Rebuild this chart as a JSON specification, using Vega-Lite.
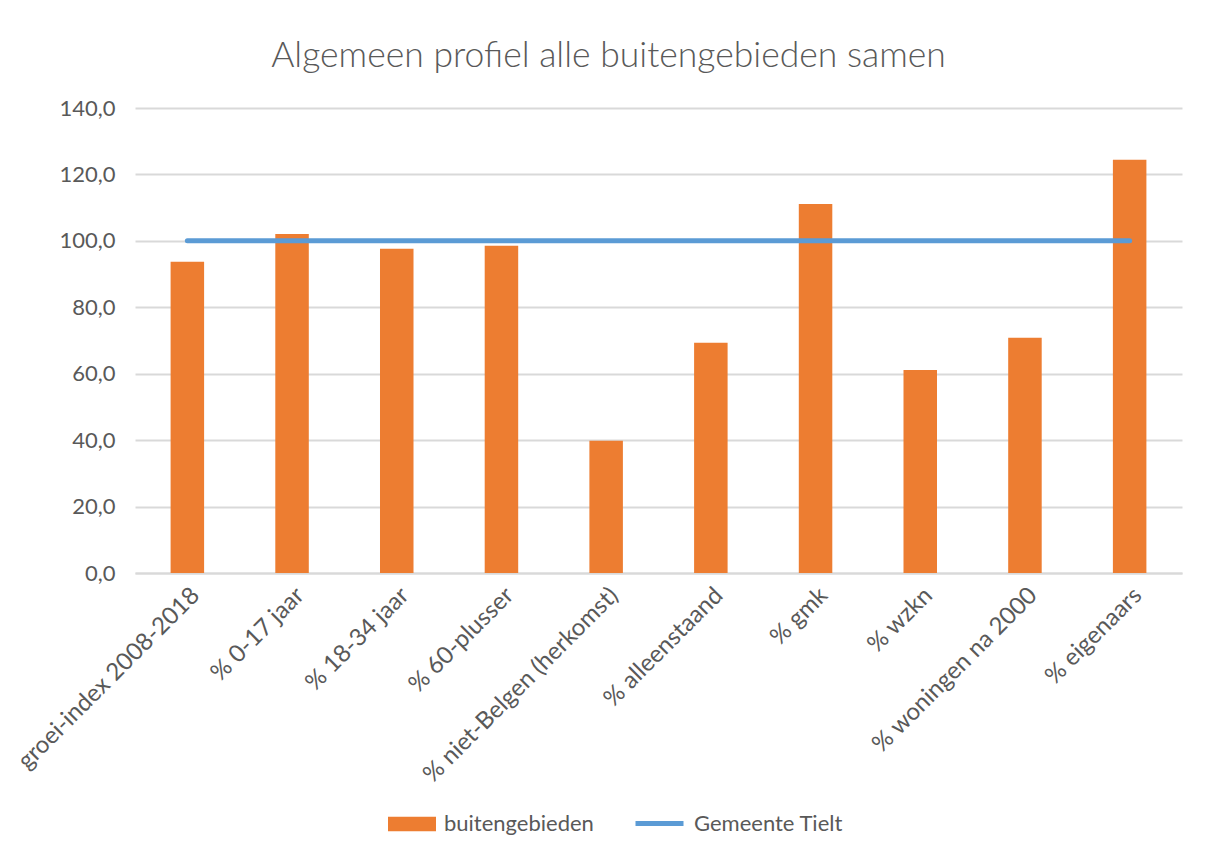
{
  "$schema": "https://vega.github.io/schema/vega-lite/v6.json",
  "width": 1047,
  "height": 465,
  "autosize": {"type": "none"},
  "padding": {"left": 135, "top": 108, "right": 24, "bottom": 283},
  "background": "white",
  "config": {
    "locale": {"number": {"decimal": ",", "thousands": ".", "grouping": [3], "currency": ["€", ""]}},
    "view": {"stroke": null},
    "font": "Lato"
  },
  "title": {
    "text": "Algemeen profiel alle buitengebieden samen",
    "font": "Lato",
    "fontSize": 35.5,
    "fontWeight": 300,
    "color": "#595959",
    "anchor": "middle",
    "dx": -50,
    "offset": 23
  },
  "data": {
    "values": [
      {"categorie": "groei-index 2008-2018", "buitengebieden": 93.7, "tielt": 100},
      {"categorie": "% 0-17 jaar", "buitengebieden": 102.1, "tielt": 100},
      {"categorie": "% 18-34 jaar", "buitengebieden": 97.6, "tielt": 100},
      {"categorie": "% 60-plusser", "buitengebieden": 98.5, "tielt": 100},
      {"categorie": "% niet-Belgen (herkomst)", "buitengebieden": 39.8, "tielt": 100},
      {"categorie": "% alleenstaand", "buitengebieden": 69.3, "tielt": 100},
      {"categorie": "% gmk", "buitengebieden": 111.1, "tielt": 100},
      {"categorie": "% wzkn", "buitengebieden": 61.1, "tielt": 100},
      {"categorie": "% woningen na 2000", "buitengebieden": 70.8, "tielt": 100},
      {"categorie": "% eigenaars", "buitengebieden": 124.4, "tielt": 100}
    ]
  },
  "encoding": {
    "x": {
      "field": "categorie",
      "type": "nominal",
      "sort": null,
      "scale": {"paddingInner": 0.68, "paddingOuter": 0.34},
      "axis": {
        "title": null,
        "labelAngle": -45,
        "labelFont": "Lato",
        "labelFontSize": 24,
        "labelColor": "#595959",
        "labelPadding": 10,
        "ticks": false,
        "domainColor": "#D9D9D9",
        "domainWidth": 2,
        "labelLimit": 400
      }
    }
  },
  "layer": [
    {
      "mark": {"type": "bar"},
      "encoding": {
        "y": {
          "field": "buitengebieden",
          "type": "quantitative",
          "scale": {"domain": [0, 140]},
          "axis": {
            "title": null,
            "values": [0, 20, 40, 60, 80, 100, 120, 140],
            "format": ".1f",
            "labelFont": "Lato",
            "labelFontSize": 22,
            "labelColor": "#595959",
            "labelPadding": 20,
            "ticks": false,
            "domain": false,
            "gridColor": "#D9D9D9",
            "gridWidth": 2
          }
        },
        "fill": {
          "datum": "buitengebieden",
          "scale": {"range": ["#ED7D31"]},
          "legend": {
            "title": null,
            "orient": "none",
            "legendX": 253,
            "legendY": 692,
            "symbolType": "M-1,-0.3H1V0.3H-1Z",
            "symbolSize": 2304,
            "symbolStrokeWidth": 0,
            "labelOffset": 8,
            "labelFont": "Lato",
            "labelFontSize": 22,
            "labelColor": "#595959"
          }
        }
      }
    },
    {
      "mark": {"type": "line", "strokeWidth": 5, "strokeCap": "round"},
      "encoding": {
        "y": {"field": "tielt", "type": "quantitative"},
        "stroke": {
          "datum": "Gemeente Tielt",
          "scale": {"range": ["#5B9BD5"]},
          "legend": {
            "title": null,
            "orient": "none",
            "legendX": 498,
            "legendY": 689,
            "symbolType": "stroke",
            "symbolSize": 2304,
            "symbolStrokeWidth": 5,
            "labelOffset": 8,
            "labelFont": "Lato",
            "labelFontSize": 22,
            "labelColor": "#595959"
          }
        }
      }
    }
  ]
}
